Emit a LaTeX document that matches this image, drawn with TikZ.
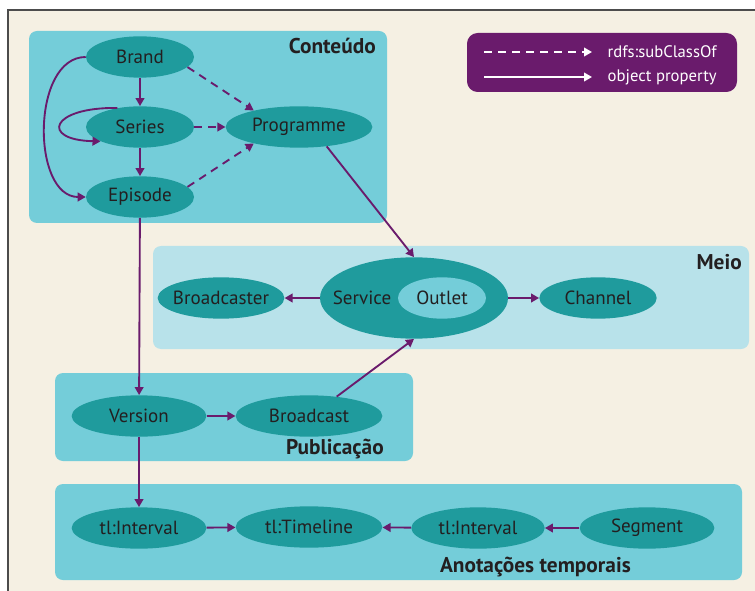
\documentclass[tikz,border=0pt]{standalone}
\usepackage{fontspec}
\setmainfont{PT Sans}
\usetikzlibrary{shapes.geometric,arrows.meta}
\definecolor{bgcream}{HTML}{F5F0E3}
\definecolor{boxblue}{HTML}{74CDD9}
\definecolor{boxlight}{HTML}{B8E2EA}
\definecolor{nodeteal}{HTML}{1F9B9D}
\definecolor{outletblue}{HTML}{74CDD9}
\definecolor{plum}{HTML}{6A1B6C}
\definecolor{ink}{HTML}{231F20}

\begin{document}
\begin{tikzpicture}[x=0.75pt,y=-0.75pt,
  class/.style={ellipse,fill=nodeteal,text=ink,inner xsep=-10pt,inner ysep=0pt,minimum height=31pt,font=\fontsize{14.3}{17}\selectfont},
  prop/.style={draw=plum,line width=1.4pt,-{Triangle[length=6pt,width=6.5pt]}},
  sub/.style={prop,dash pattern=on 6pt off 4.5pt},
  grouplabel/.style={font=\bfseries\fontsize{16}{19}\selectfont,text=ink,inner sep=0pt},
  legendline/.style={draw=white,line width=1.4pt,-{Triangle[length=6pt,width=6.5pt]}}]
  \useasboundingbox (0,0) rectangle (755,591);
  \fill[white] (0,0) rectangle (755,591);
  \fill[bgcream] (8,10) rectangle (755,591);
  \draw[black!70,line width=0.8pt] (8,591) -- (8,10) -- (755,10);

  % group boxes
  \fill[boxblue,rounded corners=6pt] (29,31) rectangle (387,223);
  \fill[boxlight,rounded corners=6pt] (153,246) rectangle (749,349);
  \fill[boxblue,rounded corners=6pt] (55,373) rectangle (413,461);
  \fill[boxblue,rounded corners=6pt] (55,484) rectangle (742,580);
  \node[grouplabel,anchor=east] at (376,46) (conteudo) {Conteúdo};
  \node[grouplabel,anchor=east] at (742,262) (meio) {Meio};
  \node[grouplabel,anchor=east] at (384,449) (publicacao) {Publicação};
  \node[grouplabel,anchor=east] at (631,567) (anotacoes) {Anotações temporais};

  % legend
  \fill[plum,rounded corners=8pt] (467,33) rectangle (737,92);
  \coordinate (subA) at (484,52);
  \coordinate (subB) at (592,52);
  \coordinate (propA) at (484,77);
  \coordinate (propB) at (592,77);
  \draw[legendline,dash pattern=on 6pt off 4.5pt] (subA) -- (subB);
  \draw[legendline] (propA) -- (propB);
  \node[anchor=west,text=white,font=\fontsize{12.5}{15}\selectfont] at (603,52) (sublabel) {rdfs:subClassOf};
  \node[anchor=west,text=white,font=\fontsize{12.5}{15}\selectfont] at (603,77) (proplabel) {object property};

  % Conteudo
  \node[class,minimum width=81pt] at (140,57) (brand) {Brand};
  \node[class,minimum width=81pt] at (140,127) (series) {Series};
  \node[class,minimum width=81pt] at (140,197) (episode) {Episode};
  \node[class,minimum width=110pt] at (299,127) (programme) {Programme};

  % Meio
  \node[class,minimum width=141pt,minimum height=61pt] at (414,298) (service) {};
  \node[text=ink,font=\fontsize{14.3}{17}\selectfont,inner sep=0pt] at (362,298) (servicelabel) {Service};
  \node[class,fill=outletblue,minimum width=66pt] at (442,298) (outlet) {Outlet};
  \node[class,minimum width=95pt] at (221,298) (broadcaster) {Broadcaster};
  \node[class,minimum width=88pt] at (598,298) (channel) {Channel};

  % Publicacao
  \node[class,minimum width=101pt] at (139,416) (version) {Version};
  \node[class,minimum width=110pt] at (309,416) (broadcast) {Broadcast};

  % Anotacoes temporais
  \node[class,minimum width=101pt] at (139,528) (intervalA) {tl:Interval};
  \node[class,minimum width=110pt] at (309,527) (timeline) {tl:Timeline};
  \node[class,minimum width=100pt] at (478,528) (intervalB) {tl:Interval};
  \node[class,minimum width=101pt] at (647,528) (segment) {Segment};

  % connectors
  \draw[prop] (brand) -- (series);
  \draw[prop] (series) -- (episode);
  \draw[prop] (brand.west) to[out=180,in=180] (episode.west);
  \draw[prop] (series.140) .. controls (50,107) and (40,140) .. (series.200);
  \draw[sub] (brand.-12) -- (programme.160);
  \draw[sub] (series) -- (programme);
  \draw[sub] (episode.12) -- (programme.200);
  \draw[prop] (programme.-35) -- (service.north);
  \draw[prop] (episode) -- (version);
  \draw[prop] (broadcast.35) -- (service.south);
  \draw[prop] (version) -- (broadcast);
  \draw[prop] (service) -- (broadcaster);
  \draw[prop] (service) -- (channel);
  \draw[prop] (version) -- (intervalA);
  \draw[prop] (intervalA) -- (timeline);
  \draw[prop] (intervalB) -- (timeline);
  \draw[prop] (segment) -- (intervalB);
\end{tikzpicture}
\end{document}
